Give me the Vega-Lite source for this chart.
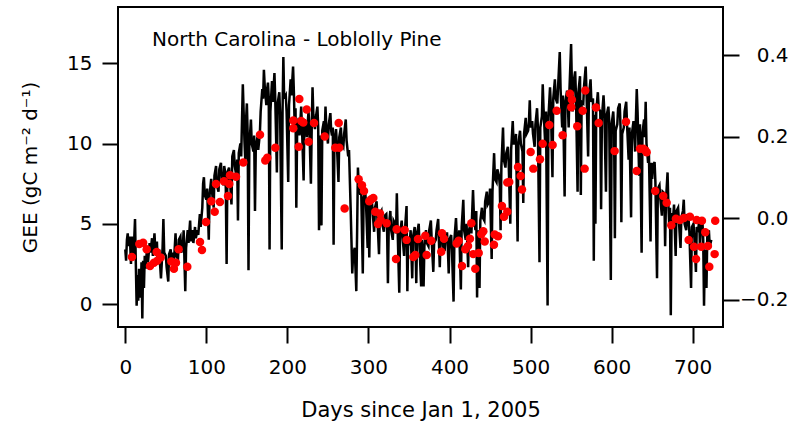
{
  "$schema": "https://vega.github.io/schema/vega-lite/v6.json",
  "width": 605,
  "height": 320,
  "autosize": {"type": "none"},
  "padding": {"left": 118, "top": 7, "right": 69, "bottom": 98},
  "background": "white",
  "config": {
    "view": {"stroke": "black", "strokeWidth": 2},
    "font": "DejaVu Sans",
    "axis": {"grid": false, "domain": false, "tickColor": "black", "tickWidth": 2, "tickSize": 16, "labelColor": "black", "labelFont": "DejaVu Sans", "labelFontSize": 20, "titleFont": "DejaVu Sans", "titleFontSize": 20, "titleFontWeight": "normal", "titleColor": "black"}
  },
  "datasets": {
    "gee": [
      {"day":0,"gee":3.4},{"day":1,"gee":2.7},{"day":2,"gee":4.0},{"day":3,"gee":4.4},{"day":4,"gee":3.6},{"day":5,"gee":4.2},{"day":6,"gee":3.8},{"day":7,"gee":2.5},{"day":8,"gee":4.2},{"day":9,"gee":3.9},{"day":10,"gee":3.0},{"day":11,"gee":4.0},{"day":12,"gee":5.3},{"day":13,"gee":2.5},{"day":14,"gee":-0.1},{"day":15,"gee":1.8},{"day":16,"gee":0.2},{"day":17,"gee":2.2},{"day":18,"gee":1.5},{"day":19,"gee":0.4},{"day":20,"gee":2.6},{"day":21,"gee":-0.9},{"day":22,"gee":2.7},{"day":23,"gee":1.0},{"day":24,"gee":3.0},{"day":25,"gee":2.2},{"day":27,"gee":3.6},{"day":28,"gee":2.6},{"day":30,"gee":3.8},{"day":31,"gee":3.2},{"day":33,"gee":4.1},{"day":34,"gee":3.0},{"day":36,"gee":4.4},{"day":37,"gee":3.4},{"day":39,"gee":3.9},{"day":40,"gee":2.6},{"day":42,"gee":3.4},{"day":43,"gee":2.4},{"day":44,"gee":1.6},{"day":46,"gee":3.5},{"day":47,"gee":5.3},{"day":48,"gee":3.2},{"day":50,"gee":3.0},{"day":51,"gee":2.3},{"day":53,"gee":1.4},{"day":54,"gee":3.1},{"day":56,"gee":3.4},{"day":57,"gee":2.6},{"day":59,"gee":3.2},{"day":60,"gee":2.6},{"day":62,"gee":4.4},{"day":63,"gee":3.0},{"day":65,"gee":2.8},{"day":66,"gee":4.0},{"day":68,"gee":4.2},{"day":69,"gee":3.2},{"day":71,"gee":3.6},{"day":72,"gee":4.6},{"day":74,"gee":0.8},{"day":75,"gee":3.5},{"day":77,"gee":4.6},{"day":78,"gee":3.8},{"day":80,"gee":5.2},{"day":81,"gee":3.9},{"day":83,"gee":4.6},{"day":84,"gee":3.8},{"day":86,"gee":4.8},{"day":87,"gee":4.1},{"day":89,"gee":4.6},{"day":90,"gee":4.3},{"day":92,"gee":5.6},{"day":93,"gee":4.8},{"day":95,"gee":6.0},{"day":96,"gee":7.5},{"day":97,"gee":7.9},{"day":98,"gee":6.8},{"day":100,"gee":6.5},{"day":101,"gee":7.2},{"day":103,"gee":4.0},{"day":104,"gee":6.8},{"day":106,"gee":7.8},{"day":107,"gee":7.0},{"day":109,"gee":6.0},{"day":110,"gee":8.0},{"day":112,"gee":8.6},{"day":113,"gee":7.4},{"day":115,"gee":7.0},{"day":116,"gee":8.4},{"day":118,"gee":8.8},{"day":119,"gee":7.8},{"day":121,"gee":7.4},{"day":122,"gee":8.6},{"day":123,"gee":8.3},{"day":124,"gee":7.2},{"day":125,"gee":2.5},{"day":126,"gee":8.2},{"day":128,"gee":8.5},{"day":129,"gee":7.8},{"day":131,"gee":6.2},{"day":132,"gee":9.2},{"day":134,"gee":9.6},{"day":135,"gee":8.6},{"day":137,"gee":8.0},{"day":138,"gee":9.0},{"day":139,"gee":5.2},{"day":140,"gee":9.4},{"day":142,"gee":10.0},{"day":143,"gee":9.2},{"day":144,"gee":11.5},{"day":145,"gee":13.7},{"day":146,"gee":12.0},{"day":147,"gee":10.2},{"day":148,"gee":9.0},{"day":149,"gee":11.5},{"day":150,"gee":12.5},{"day":151,"gee":10.5},{"day":152,"gee":2.1},{"day":153,"gee":9.8},{"day":155,"gee":11.5},{"day":156,"gee":10.0},{"day":158,"gee":9.5},{"day":159,"gee":10.5},{"day":160,"gee":5.8},{"day":161,"gee":9.8},{"day":163,"gee":10.4},{"day":164,"gee":9.6},{"day":166,"gee":10.6},{"day":167,"gee":12.0},{"day":169,"gee":13.4},{"day":170,"gee":12.8},{"day":171,"gee":14.6},{"day":172,"gee":13.6},{"day":174,"gee":12.4},{"day":175,"gee":13.4},{"day":176,"gee":13.8},{"day":177,"gee":12.8},{"day":178,"gee":3.4},{"day":179,"gee":12.0},{"day":181,"gee":13.9},{"day":182,"gee":12.6},{"day":184,"gee":14.4},{"day":185,"gee":12.8},{"day":187,"gee":8.2},{"day":188,"gee":12.5},{"day":190,"gee":13.2},{"day":191,"gee":11.8},{"day":193,"gee":3.4},{"day":194,"gee":12.0},{"day":195,"gee":15.4},{"day":196,"gee":12.8},{"day":198,"gee":13.0},{"day":199,"gee":12.0},{"day":201,"gee":7.6},{"day":202,"gee":12.4},{"day":204,"gee":14.0},{"day":205,"gee":13.0},{"day":207,"gee":14.8},{"day":208,"gee":13.2},{"day":209,"gee":11.0},{"day":210,"gee":12.2},{"day":211,"gee":6.0},{"day":212,"gee":10.8},{"day":214,"gee":11.6},{"day":215,"gee":10.5},{"day":217,"gee":12.3},{"day":218,"gee":11.0},{"day":220,"gee":7.7},{"day":221,"gee":11.5},{"day":223,"gee":11.2},{"day":224,"gee":10.4},{"day":226,"gee":12.0},{"day":227,"gee":11.2},{"day":229,"gee":7.5},{"day":230,"gee":11.0},{"day":231,"gee":13.5},{"day":232,"gee":11.8},{"day":234,"gee":10.9},{"day":235,"gee":11.6},{"day":237,"gee":12.3},{"day":238,"gee":11.0},{"day":239,"gee":4.6},{"day":240,"gee":10.5},{"day":242,"gee":4.9},{"day":243,"gee":10.8},{"day":245,"gee":11.4},{"day":246,"gee":10.6},{"day":247,"gee":12.3},{"day":248,"gee":11.0},{"day":250,"gee":10.0},{"day":251,"gee":11.2},{"day":253,"gee":11.9},{"day":254,"gee":10.8},{"day":255,"gee":10.5},{"day":256,"gee":11.0},{"day":257,"gee":3.7},{"day":258,"gee":10.2},{"day":260,"gee":10.9},{"day":261,"gee":10.0},{"day":263,"gee":7.6},{"day":264,"gee":10.4},{"day":266,"gee":11.0},{"day":267,"gee":10.0},{"day":269,"gee":9.8},{"day":270,"gee":10.6},{"day":272,"gee":11.5},{"day":273,"gee":10.2},{"day":275,"gee":9.2},{"day":276,"gee":9.6},{"day":278,"gee":6.0},{"day":279,"gee":4.0},{"day":280,"gee":1.9},{"day":281,"gee":3.0},{"day":283,"gee":3.5},{"day":284,"gee":2.2},{"day":285,"gee":0.8},{"day":286,"gee":4.5},{"day":287,"gee":8.5},{"day":288,"gee":7.4},{"day":290,"gee":6.8},{"day":291,"gee":7.3},{"day":293,"gee":1.9},{"day":294,"gee":6.6},{"day":296,"gee":7.0},{"day":297,"gee":6.2},{"day":299,"gee":3.5},{"day":300,"gee":6.4},{"day":301,"gee":2.9},{"day":302,"gee":5.8},{"day":304,"gee":6.5},{"day":305,"gee":5.9},{"day":307,"gee":4.5},{"day":308,"gee":6.0},{"day":310,"gee":6.4},{"day":311,"gee":5.4},{"day":313,"gee":3.1},{"day":314,"gee":5.6},{"day":316,"gee":5.8},{"day":317,"gee":5.0},{"day":319,"gee":4.5},{"day":320,"gee":5.5},{"day":322,"gee":5.6},{"day":323,"gee":4.6},{"day":324,"gee":1.3},{"day":325,"gee":4.8},{"day":327,"gee":5.8},{"day":328,"gee":4.6},{"day":330,"gee":4.0},{"day":331,"gee":5.2},{"day":333,"gee":5.0},{"day":334,"gee":4.4},{"day":335,"gee":6.9},{"day":336,"gee":4.6},{"day":338,"gee":0.7},{"day":339,"gee":4.4},{"day":341,"gee":5.2},{"day":342,"gee":4.2},{"day":344,"gee":3.0},{"day":345,"gee":4.6},{"day":347,"gee":6.1},{"day":348,"gee":0.8},{"day":349,"gee":4.0},{"day":351,"gee":3.8},{"day":352,"gee":4.6},{"day":354,"gee":1.6},{"day":355,"gee":4.2},{"day":357,"gee":4.8},{"day":358,"gee":3.8},{"day":359,"gee":1.3},{"day":360,"gee":4.4},{"day":362,"gee":5.0},{"day":363,"gee":3.6},{"day":365,"gee":1.1},{"day":366,"gee":4.0},{"day":368,"gee":1.1},{"day":369,"gee":3.6},{"day":371,"gee":4.6},{"day":372,"gee":3.8},{"day":374,"gee":3.6},{"day":375,"gee":4.6},{"day":377,"gee":5.2},{"day":378,"gee":4.0},{"day":380,"gee":2.0},{"day":381,"gee":3.8},{"day":383,"gee":4.0},{"day":384,"gee":4.6},{"day":386,"gee":5.3},{"day":387,"gee":3.8},{"day":388,"gee":2.3},{"day":389,"gee":4.2},{"day":391,"gee":4.6},{"day":392,"gee":3.6},{"day":394,"gee":3.3},{"day":395,"gee":4.4},{"day":397,"gee":4.4},{"day":398,"gee":3.4},{"day":399,"gee":1.9},{"day":400,"gee":4.0},{"day":402,"gee":4.3},{"day":403,"gee":3.4},{"day":405,"gee":0.15},{"day":406,"gee":4.0},{"day":408,"gee":5.35},{"day":409,"gee":4.2},{"day":411,"gee":3.7},{"day":412,"gee":4.6},{"day":414,"gee":0.9},{"day":415,"gee":4.8},{"day":417,"gee":6.5},{"day":418,"gee":4.6},{"day":420,"gee":4.0},{"day":421,"gee":5.0},{"day":423,"gee":2.3},{"day":424,"gee":4.6},{"day":426,"gee":5.0},{"day":427,"gee":4.4},{"day":429,"gee":7.1},{"day":430,"gee":5.6},{"day":432,"gee":4.6},{"day":433,"gee":5.8},{"day":434,"gee":0.4},{"day":435,"gee":4.6},{"day":437,"gee":1.0},{"day":438,"gee":5.2},{"day":440,"gee":6.0},{"day":441,"gee":5.4},{"day":443,"gee":5.2},{"day":444,"gee":6.4},{"day":446,"gee":7.0},{"day":447,"gee":6.2},{"day":449,"gee":6.4},{"day":450,"gee":7.2},{"day":452,"gee":2.8},{"day":453,"gee":7.0},{"day":455,"gee":9.4},{"day":456,"gee":7.8},{"day":458,"gee":7.6},{"day":459,"gee":8.4},{"day":461,"gee":8.0},{"day":462,"gee":7.4},{"day":463,"gee":4.6},{"day":464,"gee":8.6},{"day":466,"gee":11.0},{"day":467,"gee":9.0},{"day":469,"gee":8.5},{"day":470,"gee":9.4},{"day":472,"gee":9.8},{"day":473,"gee":8.8},{"day":475,"gee":5.0},{"day":476,"gee":9.6},{"day":478,"gee":11.4},{"day":479,"gee":10.0},{"day":481,"gee":10.0},{"day":482,"gee":10.6},{"day":484,"gee":3.9},{"day":485,"gee":10.0},{"day":487,"gee":10.8},{"day":488,"gee":10.0},{"day":490,"gee":9.5},{"day":491,"gee":6.3},{"day":492,"gee":10.6},{"day":494,"gee":11.6},{"day":495,"gee":10.6},{"day":497,"gee":10.8},{"day":498,"gee":11.4},{"day":499,"gee":12.7},{"day":500,"gee":11.0},{"day":502,"gee":11.4},{"day":503,"gee":10.6},{"day":505,"gee":9.8},{"day":506,"gee":11.2},{"day":508,"gee":12.2},{"day":509,"gee":11.0},{"day":511,"gee":2.6},{"day":512,"gee":11.0},{"day":514,"gee":11.7},{"day":515,"gee":13.7},{"day":516,"gee":12.2},{"day":518,"gee":10.0},{"day":519,"gee":12.0},{"day":521,"gee":-0.1},{"day":522,"gee":11.6},{"day":524,"gee":13.5},{"day":525,"gee":12.4},{"day":527,"gee":7.9},{"day":528,"gee":12.8},{"day":530,"gee":14.0},{"day":531,"gee":12.8},{"day":533,"gee":12.5},{"day":534,"gee":13.6},{"day":536,"gee":15.7},{"day":537,"gee":13.4},{"day":539,"gee":11.0},{"day":540,"gee":13.0},{"day":542,"gee":6.7},{"day":543,"gee":12.6},{"day":545,"gee":13.3},{"day":546,"gee":12.4},{"day":547,"gee":11.0},{"day":548,"gee":13.4},{"day":550,"gee":16.2},{"day":551,"gee":13.6},{"day":552,"gee":12.0},{"day":553,"gee":13.8},{"day":555,"gee":14.5},{"day":556,"gee":13.0},{"day":558,"gee":7.0},{"day":559,"gee":13.2},{"day":561,"gee":14.2},{"day":562,"gee":6.8},{"day":563,"gee":12.6},{"day":565,"gee":12.5},{"day":566,"gee":13.6},{"day":568,"gee":14.8},{"day":569,"gee":13.2},{"day":571,"gee":9.2},{"day":572,"gee":13.0},{"day":574,"gee":14.0},{"day":575,"gee":12.6},{"day":577,"gee":12.8},{"day":578,"gee":2.7},{"day":579,"gee":11.8},{"day":580,"gee":5.0},{"day":581,"gee":12.0},{"day":583,"gee":13.2},{"day":584,"gee":12.2},{"day":586,"gee":12.0},{"day":587,"gee":5.9},{"day":588,"gee":11.6},{"day":590,"gee":13.0},{"day":591,"gee":12.0},{"day":593,"gee":7.0},{"day":594,"gee":11.8},{"day":596,"gee":12.3},{"day":597,"gee":11.4},{"day":599,"gee":1.5},{"day":600,"gee":11.2},{"day":602,"gee":12.0},{"day":603,"gee":11.0},{"day":604,"gee":4.1},{"day":605,"gee":10.8},{"day":607,"gee":11.2},{"day":608,"gee":12.2},{"day":610,"gee":12.5},{"day":611,"gee":11.0},{"day":612,"gee":5.1},{"day":613,"gee":10.6},{"day":615,"gee":11.0},{"day":616,"gee":12.0},{"day":618,"gee":12.6},{"day":619,"gee":11.2},{"day":621,"gee":9.0},{"day":622,"gee":11.0},{"day":624,"gee":5.4},{"day":625,"gee":10.6},{"day":627,"gee":11.4},{"day":628,"gee":10.4},{"day":629,"gee":9.5},{"day":630,"gee":11.6},{"day":631,"gee":13.4},{"day":632,"gee":12.0},{"day":634,"gee":8.0},{"day":635,"gee":11.2},{"day":637,"gee":3.2},{"day":638,"gee":10.6},{"day":640,"gee":11.5},{"day":641,"gee":10.4},{"day":642,"gee":12.6},{"day":643,"gee":10.0},{"day":645,"gee":8.8},{"day":646,"gee":9.4},{"day":648,"gee":3.9},{"day":649,"gee":8.8},{"day":650,"gee":7.8},{"day":651,"gee":8.6},{"day":653,"gee":8.85},{"day":654,"gee":7.6},{"day":656,"gee":1.6},{"day":657,"gee":7.2},{"day":659,"gee":7.4},{"day":660,"gee":6.6},{"day":662,"gee":5.5},{"day":663,"gee":7.0},{"day":665,"gee":6.9},{"day":666,"gee":3.6},{"day":667,"gee":6.4},{"day":669,"gee":8.2},{"day":670,"gee":6.2},{"day":671,"gee":5.0},{"day":672,"gee":6.0},{"day":673,"gee":-0.7},{"day":674,"gee":5.6},{"day":676,"gee":5.5},{"day":677,"gee":6.2},{"day":679,"gee":3.0},{"day":680,"gee":5.8},{"day":682,"gee":6.0},{"day":683,"gee":5.2},{"day":685,"gee":3.5},{"day":686,"gee":5.4},{"day":688,"gee":5.8},{"day":689,"gee":6.5},{"day":690,"gee":5.0},{"day":692,"gee":4.6},{"day":693,"gee":5.6},{"day":695,"gee":5.2},{"day":696,"gee":4.4},{"day":698,"gee":1.0},{"day":699,"gee":4.8},{"day":701,"gee":5.0},{"day":702,"gee":4.2},{"day":704,"gee":2.0},{"day":705,"gee":4.8},{"day":707,"gee":4.6},{"day":708,"gee":5.4},{"day":709,"gee":3.5},{"day":710,"gee":4.8},{"day":712,"gee":5.2},{"day":713,"gee":4.0},{"day":714,"gee":-0.1},{"day":715,"gee":3.4},{"day":717,"gee":1.0},{"day":718,"gee":4.2},{"day":720,"gee":4.6},{"day":721,"gee":3.6},{"day":723,"gee":4.0}
    ],
    "dots": [
      {"day":8.2,"v":-0.095},{"day":17.3,"v":-0.063},{"day":22,"v":-0.06},{"day":26.4,"v":-0.076},{"day":30.5,"v":-0.117},{"day":35.4,"v":-0.109},{"day":38.7,"v":-0.083},{"day":39.5,"v":-0.104},{"day":43.6,"v":-0.096},{"day":56.8,"v":-0.106},{"day":60,"v":-0.124},{"day":62.5,"v":-0.109},{"day":65.8,"v":-0.076},{"day":76.5,"v":-0.119},{"day":92.2,"v":-0.058},{"day":94.6,"v":-0.078},{"day":99.6,"v":-0.009},{"day":106.1,"v":0.042},{"day":110.3,"v":0.016},{"day":111.9,"v":0.084},{"day":116.8,"v":0.04},{"day":121.8,"v":0.091},{"day":126.7,"v":0.055},{"day":128.3,"v":0.084},{"day":129.2,"v":0.106},{"day":136.6,"v":0.102},{"day":145.6,"v":0.137},{"day":166.2,"v":0.205},{"day":172.7,"v":0.142},{"day":175.2,"v":0.149},{"day":185.1,"v":0.173},{"day":207.3,"v":0.221},{"day":207.3,"v":0.24},{"day":214.7,"v":0.293},{"day":213.9,"v":0.176},{"day":217.1,"v":0.239},{"day":219.6,"v":0.235},{"day":223.8,"v":0.267},{"day":226.2,"v":0.188},{"day":232.8,"v":0.234},{"day":246,"v":0.201},{"day":259.1,"v":0.173},{"day":263.3,"v":0.234},{"day":264,"v":0.173},{"day":270.6,"v":0.024},{"day":287.9,"v":0.096},{"day":292,"v":0.081},{"day":294.5,"v":0.067},{"day":301,"v":0.042},{"day":303.5,"v":0.047},{"day":306,"v":0.05},{"day":308.4,"v":0.016},{"day":311.8,"v":-0.014},{"day":314.2,"v":0.012},{"day":315.1,"v":-0.004},{"day":322.5,"v":-0.012},{"day":334.8,"v":-0.027},{"day":334,"v":-0.1},{"day":344.7,"v":-0.029},{"day":347.1,"v":-0.053},{"day":355.3,"v":-0.095},{"day":357.8,"v":-0.09},{"day":361.1,"v":-0.051},{"day":370.1,"v":-0.043},{"day":371.8,"v":-0.09},{"day":377.5,"v":-0.055},{"day":389.8,"v":-0.082},{"day":390.7,"v":-0.037},{"day":393.2,"v":-0.05},{"day":408.8,"v":-0.062},{"day":411.3,"v":-0.055},{"day":415.4,"v":-0.117},{"day":419.5,"v":-0.076},{"day":422.8,"v":-0.068},{"day":425.2,"v":-0.05},{"day":426.9,"v":-0.012},{"day":429.3,"v":-0.088},{"day":431.8,"v":-0.124},{"day":436,"v":-0.085},{"day":439.2,"v":-0.039},{"day":441.7,"v":-0.032},{"day":443.4,"v":-0.057},{"day":454.8,"v":-0.065},{"day":455.7,"v":-0.04},{"day":459.8,"v":-0.044},{"day":464.7,"v":0.03},{"day":467.2,"v":0.004},{"day":471.3,"v":0.016},{"day":471.3,"v":0.088},{"day":473.7,"v":0.089},{"day":484.5,"v":0.126},{"day":487.8,"v":0.104},{"day":489.4,"v":0.071},{"day":500.1,"v":0.163},{"day":503.4,"v":0.122},{"day":511.6,"v":0.145},{"day":514.9,"v":0.183},{"day":523.1,"v":0.229},{"day":527.2,"v":0.18},{"day":532.2,"v":0.264},{"day":539.6,"v":0.204},{"day":548.6,"v":0.306},{"day":551,"v":0.291},{"day":550.2,"v":0.273},{"day":557.6,"v":0.226},{"day":564.3,"v":0.264},{"day":566.7,"v":0.122},{"day":567.5,"v":0.314},{"day":580.7,"v":0.272},{"day":584,"v":0.234},{"day":603.7,"v":0.165},{"day":617.7,"v":0.237},{"day":630.9,"v":0.116},{"day":635,"v":0.171},{"day":639.1,"v":0.171},{"day":641.5,"v":0.167},{"day":643.2,"v":0.162},{"day":653.8,"v":0.067},{"day":663.7,"v":0.055},{"day":667.9,"v":0.038},{"day":673.6,"v":-0.017},{"day":679.3,"v":-0.001},{"day":684.3,"v":-0.004},{"day":689.2,"v":0.001},{"day":696.6,"v":0.004},{"day":695,"v":-0.053},{"day":701.6,"v":-0.07},{"day":704.1,"v":-0.1},{"day":704.9,"v":-0.004},{"day":710.6,"v":-0.07},{"day":711.4,"v":-0.006},{"day":715.5,"v":-0.034},{"day":718.8,"v":-0.068},{"day":720.5,"v":-0.119},{"day":727.1,"v":-0.088},{"day":727.8,"v":-0.006}
    ],
    "label": [{"day": 33, "gee": 16.07, "text": "North Carolina - Loblolly Pine"}]
  },
  "layer": [
    {
      "data": {"name": "gee"},
      "mark": {"type": "line", "color": "black", "strokeWidth": 2.5, "clip": true},
      "encoding": {
        "x": {"field": "day", "type": "quantitative", "scale": {"domain": [-9, 737.4], "nice": false, "zero": false},
          "axis": {"orient": "bottom", "values": [0,100,200,300,400,500,600,700], "labelPadding": 14, "title": "Days since Jan 1, 2005", "titleFontSize": 21, "titleY": 89, "titleBaseline": "alphabetic"}},
        "y": {"field": "gee", "type": "quantitative", "scale": {"domain": [-1.433, 18.51], "nice": false, "zero": false},
          "axis": {"orient": "left", "values": [0,5,10,15], "labelPadding": 10, "title": "GEE (gC m⁻² d⁻¹)", "titleX": -82, "titleY": 160, "titleAngle": -90, "titleAlign": "center", "titleBaseline": "alphabetic"}}
      }
    },
    {
      "data": {"name": "dots"},
      "mark": {"type": "circle", "color": "#ff0000", "opacity": 1, "size": 72},
      "encoding": {
        "x": {"field": "day", "type": "quantitative"},
        "y": {"field": "v", "type": "quantitative", "scale": {"domain": [-0.267, 0.519], "nice": false, "zero": false},
          "axis": {"orient": "right", "values": [-0.2, 0, 0.2, 0.4], "format": ".1f", "labelAlign": "right", "labelPadding": 49, "title": null}}
      }
    },
    {
      "data": {"name": "label"},
      "mark": {"type": "text", "align": "left", "baseline": "alphabetic", "fontSize": 20, "font": "DejaVu Sans", "color": "black"},
      "encoding": {
        "x": {"field": "day", "type": "quantitative"},
        "y": {"field": "gee", "type": "quantitative", "scale": {"domain": [-1.433, 18.51], "nice": false, "zero": false}, "axis": null},
        "text": {"field": "text"}
      }
    }
  ],
  "resolve": {"scale": {"y": "independent"}}
}
